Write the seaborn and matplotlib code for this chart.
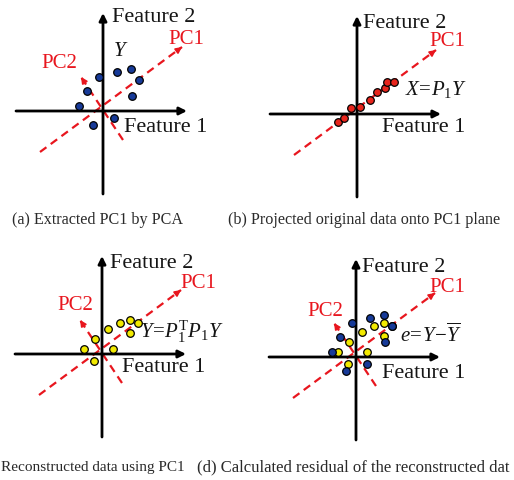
import matplotlib
matplotlib.use("Agg")
import matplotlib.pyplot as plt
import seaborn as sns
import pandas as pd

# ---------------- data (schematic units, origin = axes crossing) ----------------
Y_x = [-24, -16, -4, 14, 28, 36, 29, 11, -10]          # original data Y
Y_y = [5, 20, 34, 39, 42, 31, 15, -7, -14]
X_x = [-19, -13, -6, 3, 13, 20, 28, 30, 37]            # projection onto PC1
X_y = [-8, -4, 6, 7, 14, 22, 26, 32, 32]
R_x = [-18, -7, 6, 18, 28, 36, 28, 11, -8]             # reconstructed data
R_y = [5, 15, 25, 31, 34, 31, 21, 5, -7]

PC1_x = [-63, 79]
PC1_y = [-41, 64]
PC2_x = [20, -22]
PC2_y = [-29, 34]

AX_H = [-87, 84]     # horizontal feature axis extent
AX_V = [-83, 98]     # vertical feature axis extent

captions_top = ["(a) Extracted PC1 by PCA", "(b) Projected original data onto PC1 plane"]
captions_bottom = ["Reconstructed data using PC1", "(d) Calculated residual of the reconstructed dat"]

# ---------------- style ----------------
sns.set_theme(style="white")
plt.rcParams["font.family"] = ["Liberation Serif", "DejaVu Serif"]
plt.rcParams["mathtext.fontset"] = "custom"
plt.rcParams["mathtext.rm"] = "Liberation Serif"
plt.rcParams["mathtext.it"] = "Liberation Serif:italic"

RED = "#e8161e"
NAVY = "#173a98"
YELLOW = "#f2ea00"
PTRED = "#e8251c"
INK = "#151515"

W, H = 514, 480
fig = plt.figure(figsize=(W / 100, H / 100), dpi=100)
fig.patch.set_facecolor("white")


def make_ax(ox, oy):
    rect = [(ox - 110) / W, (H - (oy + 100)) / H, 240 / W, 210 / H]
    ax = fig.add_axes(rect)
    ax.set_xlim(-110, 130)
    ax.set_ylim(-100, 110)
    ax.axis("off")
    ax.patch.set_alpha(0)
    return ax


def feature_axes(ax):
    ax.annotate("", xy=(AX_H[1], 0), xytext=(AX_H[0], 0),
                arrowprops=dict(arrowstyle="-|>", lw=2.0, color="black",
                                mutation_scale=11, shrinkA=0, shrinkB=0))
    ax.annotate("", xy=(0, AX_V[1]), xytext=(0, AX_V[0]),
                arrowprops=dict(arrowstyle="-|>", lw=2.0, color="black",
                                mutation_scale=11, shrinkA=0, shrinkB=0))


def pc_line(ax, xs, ys):
    df = pd.DataFrame({"x": xs, "y": ys})
    sns.lineplot(data=df, x="x", y="y", ax=ax, sort=False, estimator=None,
                 color=RED, lw=1.6, legend=False)
    ln = ax.lines[-1]
    ln.set_dashes([3.6, 2.4])
    dx, dy = xs[1] - xs[0], ys[1] - ys[0]
    n = (dx ** 2 + dy ** 2) ** 0.5
    ax.annotate("", xy=(xs[1], ys[1]), xytext=(xs[1] - 6 * dx / n, ys[1] - 6 * dy / n),
                arrowprops=dict(arrowstyle="-|>", lw=1.2, color=RED,
                                mutation_scale=9, shrinkA=0, shrinkB=0))


def pts(ax, xs, ys, color):
    sns.scatterplot(x=xs, y=ys, ax=ax, s=30, color=color, edgecolor="black",
                    linewidth=0.9, legend=False, zorder=5)


FS_FEAT = 16
FS_PC = 15
FS_EQ = 15

# ---------------- panel (a) ----------------
ax = make_ax(103, 111)
feature_axes(ax)
pc_line(ax, PC1_x, PC1_y)
pc_line(ax, PC2_x, PC2_y)
pts(ax, Y_x, Y_y, NAVY)
ax.text(9, 93, "Feature 2", fontsize=FS_FEAT, ha="left", va="center", color=INK)
ax.text(21, -16, "Feature 1", fontsize=FS_FEAT, ha="left", va="center", color=INK)
ax.text(65, 72, "PC1", fontsize=FS_PC, ha="left", va="center", color=RED)
ax.text(-62, 47, "PC2", fontsize=FS_PC, ha="left", va="center", color=RED)
ax.text(10, 59, r"$Y$", fontsize=FS_EQ, ha="left", va="center", color=INK)

# ---------------- panel (b) ----------------
ax = make_ax(357, 114)
feature_axes(ax)
pc_line(ax, PC1_x, PC1_y)
pts(ax, X_x, X_y, PTRED)
ax.text(6, 91, "Feature 2", fontsize=FS_FEAT, ha="left", va="center", color=INK)
ax.text(25, -14, "Feature 1", fontsize=FS_FEAT, ha="left", va="center", color=INK)
ax.text(72, 72, "PC1", fontsize=FS_PC, ha="left", va="center", color=RED)
ax.text(48, 24, r"$X\!=\!P_{\mathrm{1}}Y$", fontsize=FS_EQ, ha="left", va="center", color=INK)

# ---------------- panel (c) ----------------
ax = make_ax(102, 354)
feature_axes(ax)
pc_line(ax, PC1_x, PC1_y)
pc_line(ax, PC2_x, PC2_y)
pts(ax, R_x, R_y, YELLOW)
ax.text(8, 91, "Feature 2", fontsize=FS_FEAT, ha="left", va="center", color=INK)
ax.text(20, -14, "Feature 1", fontsize=FS_FEAT, ha="left", va="center", color=INK)
ax.text(78, 71, "PC1", fontsize=FS_PC, ha="left", va="center", color=RED)
ax.text(-45, 49, "PC2", fontsize=FS_PC, ha="left", va="center", color=RED)
ax.text(38, 22, r"$Y\!=\!P_{\mathrm{1}}^{\mathrm{T}}P_{\mathrm{1}}Y$", fontsize=FS_EQ,
        ha="left", va="center", color=INK)

# ---------------- panel (d) ----------------
ax = make_ax(356, 357)
feature_axes(ax)
pc_line(ax, PC1_x, PC1_y)
pc_line(ax, PC2_x, PC2_y)
pts(ax, R_x, R_y, YELLOW)
pts(ax, Y_x, Y_y, NAVY)
ax.text(6, 89, "Feature 2", fontsize=FS_FEAT, ha="left", va="center", color=INK)
ax.text(26, -16, "Feature 1", fontsize=FS_FEAT, ha="left", va="center", color=INK)
ax.text(73, 70, "PC1", fontsize=FS_PC, ha="left", va="center", color=RED)
ax.text(-49, 45, "PC2", fontsize=FS_PC, ha="left", va="center", color=RED)
ax.text(44, 22, r"$e\!=\!Y\!-\!\overline{Y}$", fontsize=FS_EQ, ha="left", va="center", color=INK)

# ---------------- captions ----------------
CAP_COL = "#2a2a2a"
fig.text(12 / W, 1 - 220 / H, captions_top[0], fontsize=11.6, ha="left", va="center", color=CAP_COL)
fig.text(228 / W, 1 - 220 / H, captions_top[1], fontsize=11.6, ha="left", va="center", color=CAP_COL)
fig.text(1 / W, 1 - 467 / H, captions_bottom[0], fontsize=11, ha="left", va="center", color=CAP_COL)
fig.text(197 / W, 1 - 467 / H, captions_bottom[1], fontsize=12, ha="left", va="center", color=CAP_COL)

fig.savefig("out.png", dpi=100, facecolor="white")
